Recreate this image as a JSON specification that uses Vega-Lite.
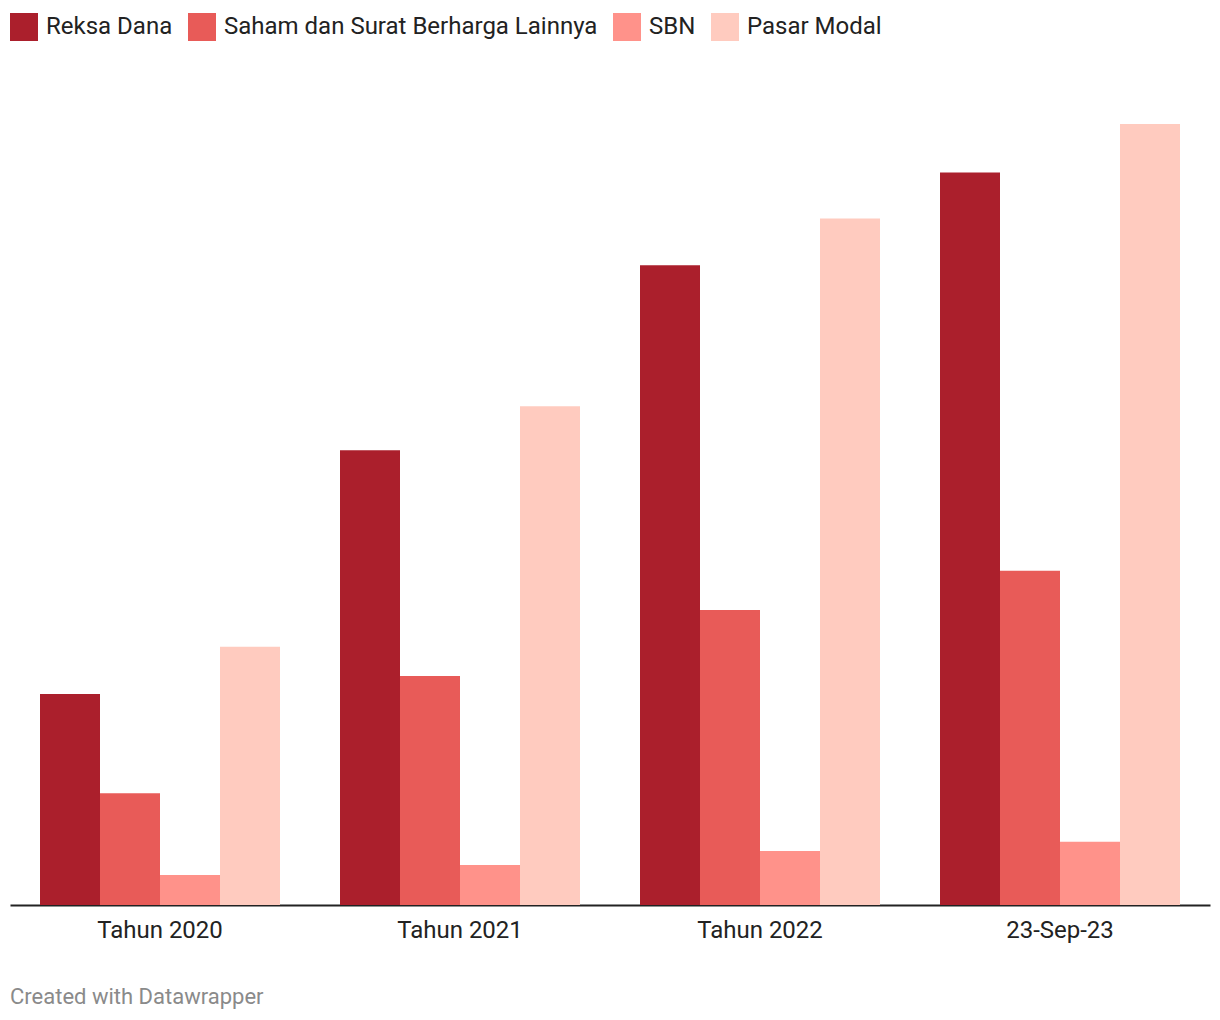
{
  "$schema": "https://vega.github.io/schema/vega-lite/v6.json",
  "autosize": {"type": "none"},
  "width": 1200,
  "height": 799,
  "padding": {"left": 10, "top": 106, "right": 10, "bottom": 115},
  "background": "white",
  "data": {
    "values": [
      {"periode": "Tahun 2020", "kategori": "Reksa Dana", "nilai": 3.17},
      {"periode": "Tahun 2020", "kategori": "Saham dan Surat Berharga Lainnya", "nilai": 1.68},
      {"periode": "Tahun 2020", "kategori": "SBN", "nilai": 0.45},
      {"periode": "Tahun 2020", "kategori": "Pasar Modal", "nilai": 3.88},
      {"periode": "Tahun 2021", "kategori": "Reksa Dana", "nilai": 6.83},
      {"periode": "Tahun 2021", "kategori": "Saham dan Surat Berharga Lainnya", "nilai": 3.44},
      {"periode": "Tahun 2021", "kategori": "SBN", "nilai": 0.60},
      {"periode": "Tahun 2021", "kategori": "Pasar Modal", "nilai": 7.49},
      {"periode": "Tahun 2022", "kategori": "Reksa Dana", "nilai": 9.61},
      {"periode": "Tahun 2022", "kategori": "Saham dan Surat Berharga Lainnya", "nilai": 4.43},
      {"periode": "Tahun 2022", "kategori": "SBN", "nilai": 0.81},
      {"periode": "Tahun 2022", "kategori": "Pasar Modal", "nilai": 10.31},
      {"periode": "23-Sep-23", "kategori": "Reksa Dana", "nilai": 11.0},
      {"periode": "23-Sep-23", "kategori": "Saham dan Surat Berharga Lainnya", "nilai": 5.02},
      {"periode": "23-Sep-23", "kategori": "SBN", "nilai": 0.95},
      {"periode": "23-Sep-23", "kategori": "Pasar Modal", "nilai": 11.73}
    ]
  },
  "title": {
    "text": "Created with Datawrapper",
    "orient": "bottom",
    "anchor": "start",
    "frame": "group",
    "offset": 45,
    "font": "Roboto",
    "fontSize": 22,
    "fontWeight": "normal",
    "color": "#8a8a8a"
  },
  "mark": {"type": "bar"},
  "encoding": {
    "x": {
      "field": "periode",
      "type": "nominal",
      "sort": ["Tahun 2020", "Tahun 2021", "Tahun 2022", "23-Sep-23"],
      "scale": {"paddingInner": 0.2, "paddingOuter": 0.1},
      "axis": {
        "title": null,
        "labelAngle": 0,
        "labelFont": "Roboto",
        "labelFontSize": 24,
        "labelColor": "#222222",
        "labelPadding": 13,
        "ticks": false,
        "domainColor": "#222222",
        "domainWidth": 2,
        "grid": false
      }
    },
    "xOffset": {
      "field": "kategori",
      "type": "nominal",
      "sort": ["Reksa Dana", "Saham dan Surat Berharga Lainnya", "SBN", "Pasar Modal"],
      "scale": {"paddingInner": 0, "paddingOuter": 0}
    },
    "y": {
      "field": "nilai",
      "type": "quantitative",
      "scale": {"domain": [0, 12], "nice": false},
      "axis": null
    },
    "color": {
      "field": "kategori",
      "type": "nominal",
      "sort": ["Reksa Dana", "Saham dan Surat Berharga Lainnya", "SBN", "Pasar Modal"],
      "scale": {
        "domain": ["Reksa Dana", "Saham dan Surat Berharga Lainnya", "SBN", "Pasar Modal"],
        "range": ["#ab1f2c", "#e85b58", "#ff928a", "#ffcbbf"]
      },
      "legend": {
        "title": null,
        "orient": "top",
        "direction": "horizontal",
        "offset": 65,
        "symbolType": "square",
        "symbolSize": 784,
        "symbolStrokeWidth": 0,
        "symbolOpacity": 1,
        "labelFont": "Roboto",
        "labelFontSize": 24,
        "labelColor": "#222222",
        "labelOffset": 8,
        "columnPadding": 15,
        "labelLimit": 500,
        "padding": 0
      }
    }
  },
  "config": {
    "view": {"stroke": null},
    "font": "Roboto"
  }
}
